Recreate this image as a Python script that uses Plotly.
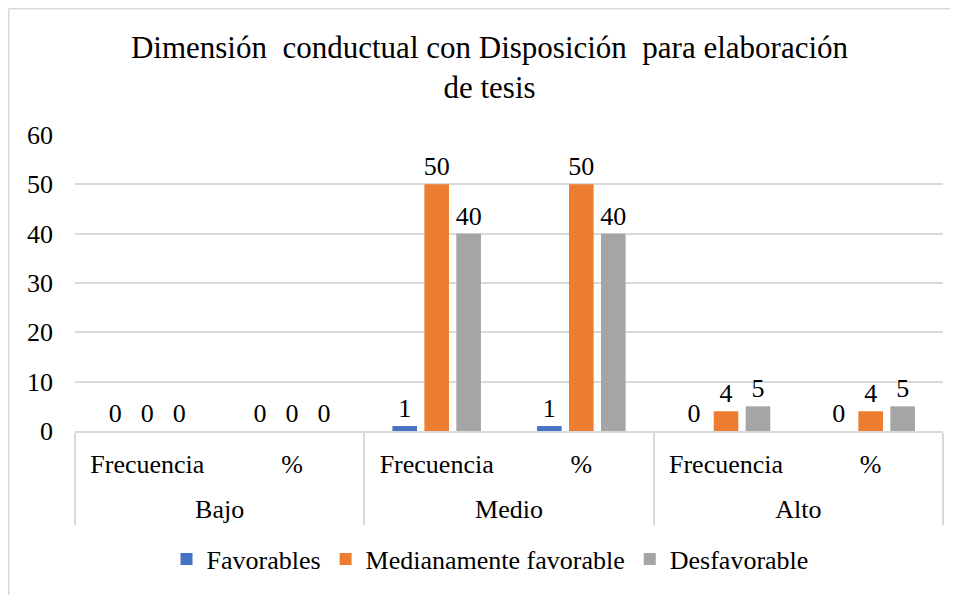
import plotly.graph_objects as go

niveles = ["Bajo", "Bajo", "Medio", "Medio", "Alto", "Alto"]
medidas = ["Frecuencia", "%", "Frecuencia", "%", "Frecuencia", "%"]

favorables = [0, 0, 1, 1, 0, 0]
medianamente = [0, 0, 50, 50, 4, 4]
desfavorable = [0, 0, 40, 40, 5, 5]

series = [
    ("Favorables", favorables, "#4472C4"),
    ("Medianamente favorable", medianamente, "#ED7D31"),
    ("Desfavorable", desfavorable, "#A5A5A5"),
]

FONT = "Liberation Serif"
W, H = 950, 587          # page body adds an 8px offset
L, R, T, B = 67, 15, 127, 164
PW, PH = W - L - R, H - T - B

fig = go.Figure()
for name, vals, color in series:
    fig.add_trace(go.Bar(
        x=[niveles, medidas], y=vals, name=name,
        marker=dict(color=color, line=dict(width=0)),
        text=[str(v) for v in vals], textposition="outside",
        constraintext="none",
        textfont=dict(family=FONT, size=26, color="#000000"),
        cliponaxis=False,
    ))

fig.update_layout(
    width=W, height=H,
    margin=dict(l=L, r=R, t=T, b=B, autoexpand=False),
    paper_bgcolor="white", plot_bgcolor="white",
    font=dict(family=FONT, size=26, color="#000000"),
    barmode="group", bargap=0.337, bargroupgap=0.23,
    title=dict(
        text="Dimensión  conductual con Disposición  para elaboración<br>de tesis",
        x=481.5 / W, xanchor="center", xref="container",
        y=1 - 50 / H, yanchor="top", yref="container",
        font=dict(family=FONT, size=31, color="#000000"),
    ),
    legend=dict(
        orientation="h", x=482 / W, xanchor="center", xref="container",
        y=(H - 551) / H, yanchor="middle", yref="container",
        font=dict(family=FONT, size=26, color="#000000"),
        tracegroupgap=0,
    ),
    showlegend=True,
)

fig.update_xaxes(
    type="multicategory", automargin=False, tickangle=0,
    showgrid=False, showline=True, linecolor="#D9D9D9", linewidth=1.5,
    showdividers=True, dividercolor="#D9D9D9", dividerwidth=1.5,
    tickfont=dict(family=FONT, size=26, color="#000000"),
    tickson="labels",
    ticks="outside", ticklen=23, tickcolor="rgba(0,0,0,0)",
    ticklabelstandoff=-14,
)
fig.update_yaxes(
    range=[0, 60], dtick=10, tick0=0, automargin=False,
    showgrid=True, gridcolor="#D9D9D9", gridwidth=1.5,
    zeroline=False, showline=False, ticks="",
    tickfont=dict(family=FONT, size=26, color="#000000"),
    ticklabelstandoff=21,
)

# chart frame (top and left edges visible in the reference)
fx = (0.75 - L) / PW
fy = (H - B - 0.75) / PH
fig.add_shape(type="line", xref="paper", yref="paper",
              x0=fx, x1=(W + 10 - L) / PW, y0=fy, y1=fy,
              line=dict(color="#D9D9D9", width=1.5), layer="below")
fig.add_shape(type="line", xref="paper", yref="paper",
              x0=fx, x1=fx, y0=fy, y1=-(B + 10) / PH,
              line=dict(color="#D9D9D9", width=1.5), layer="below")

fig.write_html("out.html")
